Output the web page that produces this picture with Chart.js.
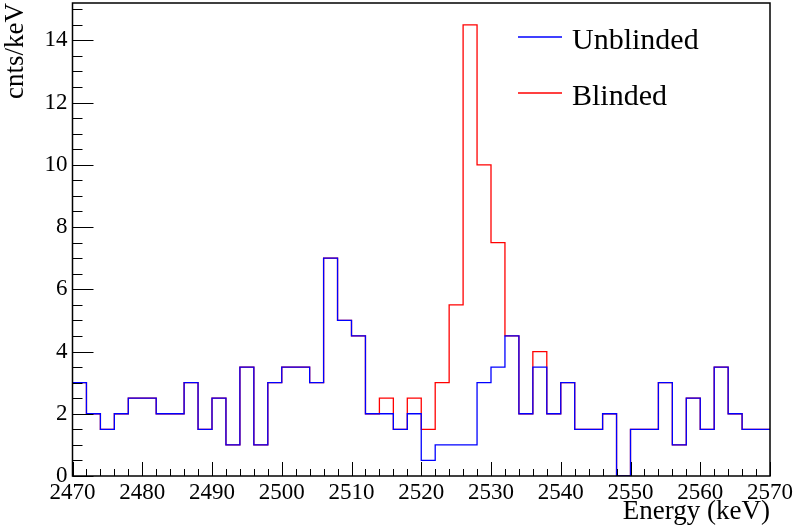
<!DOCTYPE html>
<html>
<head>
<meta charset="utf-8">
<script src="https://cdn.jsdelivr.net/npm/chart.js@4/dist/chart.umd.min.js"></script>
<style>
  html, body { margin: 0; padding: 0; background: #fff; }
  #chart { display: block; }
</style>
</head>
<body>
<canvas id="chart" width="794" height="529"></canvas>
<script>
// Histogram binning (keV)
const binStart = 2470;
const binWidth = 2;

// Bin contents (cnts/keV), 50 bins from 2470 to 2570
const unblinded = [3, 2, 1.5, 2, 2.5, 2.5, 2, 2, 3, 1.5,
                   2.5, 1, 3.5, 1, 3, 3.5, 3.5, 3, 7, 5,
                   4.5, 2, 2, 1.5, 2, 0.5, 1, 1, 1, 3,
                   3.5, 4.5, 2, 3.5, 2, 3, 1.5, 1.5, 2, 0,
                   1.5, 1.5, 3, 1, 2.5, 1.5, 3.5, 2, 1.5, 1.5];
const blinded = [3, 2, 1.5, 2, 2.5, 2.5, 2, 2, 3, 1.5,
                 2.5, 1, 3.5, 1, 3, 3.5, 3.5, 3, 7, 5,
                 4.5, 2, 2.5, 1.5, 2.5, 1.5, 3, 5.5, 14.5, 10,
                 7.5, 4.5, 2, 4, 2, 3, 1.5, 1.5, 2, 0,
                 1.5, 1.5, 3, 1, 2.5, 1.5, 3.5, 2, 1.5, 1.5];

// Axis ticks
const xTicks = [2470, 2480, 2490, 2500, 2510, 2520, 2530, 2540, 2550, 2560, 2570];
const yTicks = [0, 2, 4, 6, 8, 10, 12, 14];

const serif = "'Liberation Serif', 'Times New Roman', serif";

// Turn bin contents into step points (left edges + closing right edge)
function toSteps(values) {
  const pts = values.map((v, i) => ({ x: binStart + i * binWidth, y: v }));
  pts.push({ x: binStart + values.length * binWidth, y: values[values.length - 1] });
  return pts;
}

// ROOT-like frame: box, inner tick marks and legend
const rootFrame = {
  id: 'rootFrame',
  afterDraw(chart) {
    const { ctx, chartArea: a, scales: { x, y } } = chart;
    ctx.save();
    ctx.strokeStyle = '#000';
    ctx.lineWidth = 1;

    // x ticks (major every 10, minor every 2)
    ctx.beginPath();
    for (let e = xTicks[0]; e <= xTicks[xTicks.length - 1]; e += 2) {
      const px = Math.round(x.getPixelForValue(e)) + 0.5;
      const len = xTicks.includes(e) ? 14 : 7;
      ctx.moveTo(px, a.bottom);
      ctx.lineTo(px, a.bottom - len);
    }
    // y ticks (major every 2, minor every 0.5)
    for (let v = 0; v <= 15; v += 0.5) {
      const py = Math.round(y.getPixelForValue(v)) + 0.5;
      if (py < a.top) break;
      const len = yTicks.includes(v) ? 21 : 10;
      ctx.moveTo(a.left, py);
      ctx.lineTo(a.left + len, py);
    }
    ctx.stroke();

    // frame
    ctx.lineWidth = 1.5;
    ctx.strokeRect(a.left, a.top, a.right - a.left, a.bottom - a.top);

    // legend
    ctx.font = '30px ' + serif;
    ctx.textBaseline = 'alphabetic';
    ctx.textAlign = 'left';
    chart.data.datasets.forEach((ds, i) => {
      const ly = 37 + i * 56;
      ctx.strokeStyle = ds.borderColor;
      ctx.lineWidth = 1.3;
      ctx.beginPath();
      ctx.moveTo(518, ly);
      ctx.lineTo(562, ly);
      ctx.stroke();
      ctx.fillStyle = '#000';
      ctx.fillText(ds.label, 572, ly + 12);
    });
    ctx.restore();
  }
};

new Chart(document.getElementById('chart'), {
  type: 'line',
  data: {
    datasets: [{
      label: 'Unblinded',
      data: toSteps(unblinded),
      borderColor: '#0000ff',
      borderWidth: 1.3,
      stepped: 'before',
      pointRadius: 0,
      fill: false
    }, {
      label: 'Blinded',
      data: toSteps(blinded),
      borderColor: '#ff0000',
      borderWidth: 1.3,
      stepped: 'before',
      pointRadius: 0,
      fill: false
    }]
  },
  options: {
    responsive: false,
    animation: false,
    layout: { padding: { left: 0, right: 24, top: 3, bottom: 0 } },
    plugins: {
      legend: { display: false },
      tooltip: { enabled: false }
    },
    scales: {
      x: {
        type: 'linear',
        min: 2470,
        max: 2570,
        afterFit: s => { s.height = 53; s.paddingLeft = 0; s.paddingRight = 0; },
        afterBuildTicks: s => { s.ticks = xTicks.map(v => ({ value: v })); },
        ticks: {
          color: '#000',
          font: { family: serif, size: 23 },
          padding: 3,
          maxRotation: 0,
          autoSkip: false,
          callback: v => String(v)
        },
        grid: { display: false, drawTicks: false },
        border: { display: false },
        title: {
          display: true,
          text: 'Energy (keV)',
          align: 'end',
          color: '#000',
          font: { family: serif, size: 27 },
          padding: { top: 0, bottom: 1 }
        }
      },
      y: {
        min: 0,
        max: 15.2,
        afterFit: s => { s.width = 72.5; s.paddingTop = 0; s.paddingBottom = 0; },
        afterBuildTicks: s => { s.ticks = yTicks.map(v => ({ value: v })); },
        ticks: {
          color: '#000',
          font: { family: serif, size: 23 },
          padding: 5,
          callback: v => String(v)
        },
        grid: { display: false, drawTicks: false },
        border: { display: false },
        title: {
          display: true,
          text: 'cnts/keV',
          align: 'end',
          color: '#000',
          font: { family: serif, size: 27 },
          padding: { top: 0, bottom: 0 }
        }
      }
    }
  },
  plugins: [rootFrame]
});
</script>
</body>
</html>
